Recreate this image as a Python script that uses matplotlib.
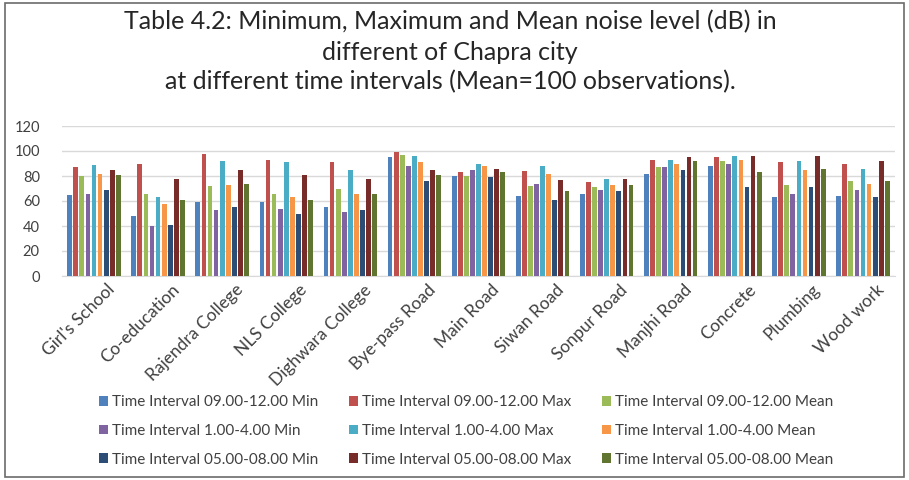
import numpy as np
import matplotlib
matplotlib.use('Agg')
import matplotlib.pyplot as plt
import matplotlib.transforms as mtransforms
from matplotlib.patches import Rectangle

plt.rcParams['font.family'] = ['Lato', 'DejaVu Sans']

# ── Data ─────────────────────────────────────────────
sites = ["Girl's School", "Co-education", "Rajendra College", "NLS College",
         "Dighwara College", "Bye-pass Road", "Main Road", "Siwan Road",
         "Sonpur Road", "Manjhi Road", "Concrete", "Plumbing", "Wood work"]

min_09_12  = [65, 48, 59, 59, 55, 95, 80, 64, 66, 82, 88, 63, 64]
max_09_12  = [87, 90, 98, 93, 91, 99, 83, 84, 75, 93, 95, 91, 90]
mean_09_12 = [80, 66, 72, 66, 70, 97, 80, 72, 71, 87, 92, 73, 76]
min_1_4    = [66, 40, 53, 54, 51, 88, 85, 74, 69, 87, 90, 66, 69]
max_1_4    = [89, 63, 92, 91, 85, 96, 90, 88, 78, 93, 96, 92, 86]
mean_1_4   = [82, 58, 73, 63, 66, 91, 88, 82, 73, 90, 93, 85, 74]
min_5_8    = [69, 41, 55, 50, 53, 76, 79, 61, 68, 85, 71, 71, 63]
max_5_8    = [85, 78, 85, 81, 78, 85, 86, 77, 78, 95, 96, 96, 92]
mean_5_8   = [81, 61, 74, 61, 66, 81, 83, 68, 73, 92, 83, 86, 76]

series = [min_09_12, max_09_12, mean_09_12, min_1_4, max_1_4, mean_1_4,
          min_5_8, max_5_8, mean_5_8]
labels = ["Time Interval 09.00-12.00 Min", "Time Interval 09.00-12.00 Max",
          "Time Interval 09.00-12.00 Mean", "Time Interval 1.00-4.00 Min",
          "Time Interval 1.00-4.00 Max", "Time Interval 1.00-4.00 Mean",
          "Time Interval 05.00-08.00 Min", "Time Interval 05.00-08.00 Max",
          "Time Interval 05.00-08.00 Mean"]
colors = ['#4F81BD', '#C0504D', '#9BBB59', '#8064A2', '#4BACC6', '#F79646',
          '#2C4D75', '#772C2A', '#5F7530']

W, H = 909, 480
fig = plt.figure(figsize=(W / 100, H / 100), dpi=100)
fig.patch.set_facecolor('white')

# outer frame
fig.add_artist(Rectangle((5 / W, 3 / H), 899 / W, 474 / H, transform=fig.transFigure,
                         fill=False, edgecolor='#6b6b6b', lw=1.2))

title_lines = ["Table 4.2: Minimum, Maximum and Mean noise level (dB) in",
               "different of Chapra city",
               "at different time intervals (Mean=100 observations)."]
for k, line in enumerate(title_lines):
    fig.text(0.495, 1 - (22 + 30 * k) / H, line, ha='center', va='center',
             fontsize=18, color='#262626')

ax = fig.add_axes([62 / W, (H - 276) / H, (895 - 62) / W, 150 / H])
x = np.arange(len(sites))
step = 0.095
bw = 0.074
handles = []
for i, (vals, col, lab) in enumerate(zip(series, colors, labels)):
    h = ax.bar(x + (i - 4) * step, vals, width=bw, color=col, label=lab, zorder=3)
    handles.append(h)

ax.set_xlim(-0.5, len(sites) - 0.5)
ax.set_ylim(0, 120)
ax.set_yticks(range(0, 121, 20))
ax.grid(axis='y', color='#d9d9d9', lw=1, zorder=0)
for s in ['top', 'right', 'left']:
    ax.spines[s].set_visible(False)
ax.spines['bottom'].set_color('#d9d9d9')
ax.tick_params(length=0, colors='#404040', labelsize=10.5)
ax.tick_params(axis='y', pad=16)
ax.set_xticks(x)
ax.set_xticklabels(sites, rotation=45, ha='right', rotation_mode='anchor', fontsize=12.5)
ax.tick_params(axis='x', pad=4)
shift = mtransforms.ScaledTranslation(13 / 100, 0, fig.dpi_scale_trans)
for lbl in ax.get_xticklabels():
    lbl.set_transform(lbl.get_transform() + shift)

# legend rows read left to right
order = [0, 3, 6, 1, 4, 7, 2, 5, 8]
fig.legend([handles[k] for k in order], [labels[k] for k in order],
           ncol=3, loc='center', bbox_to_anchor=(466 / W, 1 - 431 / H),
           frameon=False, fontsize=11, handlelength=0.6, handleheight=0.6,
           handletextpad=0.25, columnspacing=2.0, labelspacing=0.95,
           labelcolor='#404040')

fig.savefig('out.png', dpi=100)
